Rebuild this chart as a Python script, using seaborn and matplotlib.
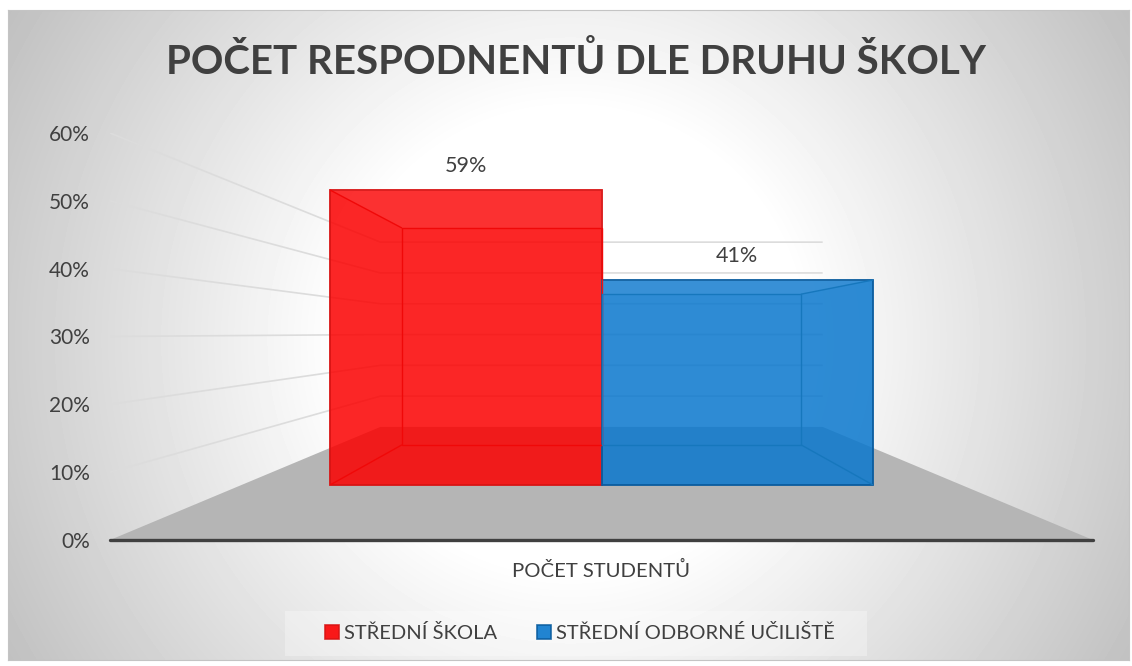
import numpy as np
import pandas as pd
import seaborn as sns
import matplotlib.pyplot as plt
from matplotlib.colors import to_rgba
from matplotlib.patches import Polygon, Rectangle
from matplotlib.ticker import PercentFormatter

kategorie = ["POČET STUDENTŮ"]
skoly = ["STŘEDNÍ ŠKOLA", "STŘEDNÍ ODBORNÉ UČILIŠTĚ"]
podily = [59, 41]
mrizka = [10, 20, 30, 40, 50, 60]

W, H = 1132, 666
TEXT = "#404040"
barvy = {"STŘEDNÍ ŠKOLA": "#fb0000", "STŘEDNÍ ODBORNÉ UČILIŠTĚ": "#0977cd"}
hrany = ["#d81414", "#0a5c9e"]
vnitrni = ["#f00808", "#1677bd"]

sns.set_theme(style="white")
plt.rcParams["font.family"] = ["Lato", "DejaVu Sans"]


def box(x0, y0, x1, y1):
    # pixel box (y from the top) to figure fractions
    return [x0 / W, 1 - y1 / H, (x1 - x0) / W, (y1 - y0) / H]


fig = plt.figure(figsize=(W / 100, H / 100), dpi=100, facecolor="white")

# radial background of the chart area
bg = fig.add_axes(box(8, 10, 1129, 660), zorder=0)
xx, yy = np.meshgrid(np.arange(8, 1129), np.arange(10, 660))
r = np.hypot(xx - 570, yy - 340)
grad = np.clip(255 - 0.15 * np.clip(r - 230, 0, None), 0, 255)
bg.imshow(grad, cmap="gray", vmin=0, vmax=255, aspect="auto")
bg.set_xticks([])
bg.set_yticks([])
for s in bg.spines.values():
    s.set_color("#c4c4c4")
    s.set_linewidth(0.8)

# outer plane: value axis, floor and walls
ax = fig.add_axes(box(110, 133, 1093, 540), zorder=1)
ax.patch.set_alpha(0)
ax.set_xlim(-0.5, 0.5)
ax.set_ylim(0, 60)


def stena(x, v):
    # point of the outer plane pushed back to the rear wall
    return 0.45 * x, 16.67 + 0.454 * v


ax.add_patch(Polygon([(-0.5, 0), (0.5, 0), stena(0.5, 0), stena(-0.5, 0)],
                     facecolor="#b5b5b5", edgecolor="none"))
for v in mrizka:
    a = stena(-0.5, v)
    b = stena(0.5, v)
    ax.plot([-0.5, a[0], b[0]], [v, a[1], b[1]], color="#dcdcdc", lw=1.2,
            solid_capstyle="butt")

ax.yaxis.set_major_formatter(PercentFormatter(decimals=0))
ax.set_yticks([0] + mrizka)
ax.set_xticks([0], kategorie)
ax.tick_params(axis="y", length=0, pad=14.5, labelsize=15, labelcolor=TEXT)
ax.tick_params(axis="x", length=0, pad=15, labelsize=14.6, labelcolor=TEXT)
sns.despine(ax=ax, left=True)
ax.spines["bottom"].set_color(TEXT)
ax.spines["bottom"].set_linewidth(2.4)
ax.spines["bottom"].set_capstyle("round")

# front plane of the bars
df = pd.DataFrame({"kategorie": kategorie * 2, "skola": skoly, "podil": podily})
ax2 = fig.add_axes(box(330, 185, 873, 485), zorder=2)
ax2.patch.set_alpha(0)
sns.barplot(data=df, x="kategorie", y="podil", hue="skola", hue_order=skoly,
            palette=barvy, saturation=1, width=1, gap=0, ax=ax2)
ax2.set_xlim(-0.5, 0.5)
ax2.set_ylim(0, 60)
ax2.set_axis_off()


def hloubka(x, v):
    # rear face of the bar box
    return 0.736 * x, 8 + 0.736 * v


for i, c in enumerate(ax2.containers):
    p = c[0]
    p.set_facecolor(to_rgba(barvy[skoly[i]], 0.85))
    p.set_edgecolor(hrany[i])
    p.set_linewidth(1.3)
    p.set_clip_on(False)
    x0, x1 = p.get_x(), p.get_x() + p.get_width()
    v = p.get_height()
    ax2.add_patch(Polygon([(x0, v), (x1, v), hloubka(x1, v), hloubka(x0, v)],
                          facecolor="white", alpha=0.05, edgecolor="none"))
    ax2.add_patch(Polygon([hloubka(x0, 0), hloubka(x1, 0), hloubka(x1, v), hloubka(x0, v)],
                          facecolor="none", edgecolor=vnitrni[i], lw=1))
    kraj = x0 if i == 0 else x1
    for w in [0, v]:
        q = hloubka(kraj, w)
        ax2.plot([kraj, q[0]], [w, q[1]], color=vnitrni[i], lw=1)
    ax2.bar_label(c, fmt="%g%%", padding=10, fontsize=15.5, color=TEXT)

handles, labels = ax2.get_legend_handles_labels()
ax2.legend_.remove()
for h, e in zip(handles, hrany):
    h.set_edgecolor(e)
    h.set_linewidth(1.2)
    h.set_alpha(0.9)

# pale strip behind the legend
fig.add_artist(Rectangle((285 / W, 1 - 656 / H), 582 / W, 45 / H, transform=fig.transFigure,
                         facecolor="white", alpha=0.3, edgecolor="none"))
fig.legend(handles, labels, loc="center", bbox_to_anchor=(580 / W, 1 - 633 / H),
           ncol=2, fontsize=14.5, labelcolor=TEXT, frameon=False, handlelength=0.7,
           handleheight=0.7, handletextpad=0.25, columnspacing=2.0,
           borderpad=0, borderaxespad=0)

fig.text(576 / W, 1 - 62 / H, "POČET RESPODNENTŮ DLE DRUHU ŠKOLY", ha="center",
         va="center", fontsize=29, fontweight="bold", color=TEXT)

fig.savefig("out.png", dpi=100)
